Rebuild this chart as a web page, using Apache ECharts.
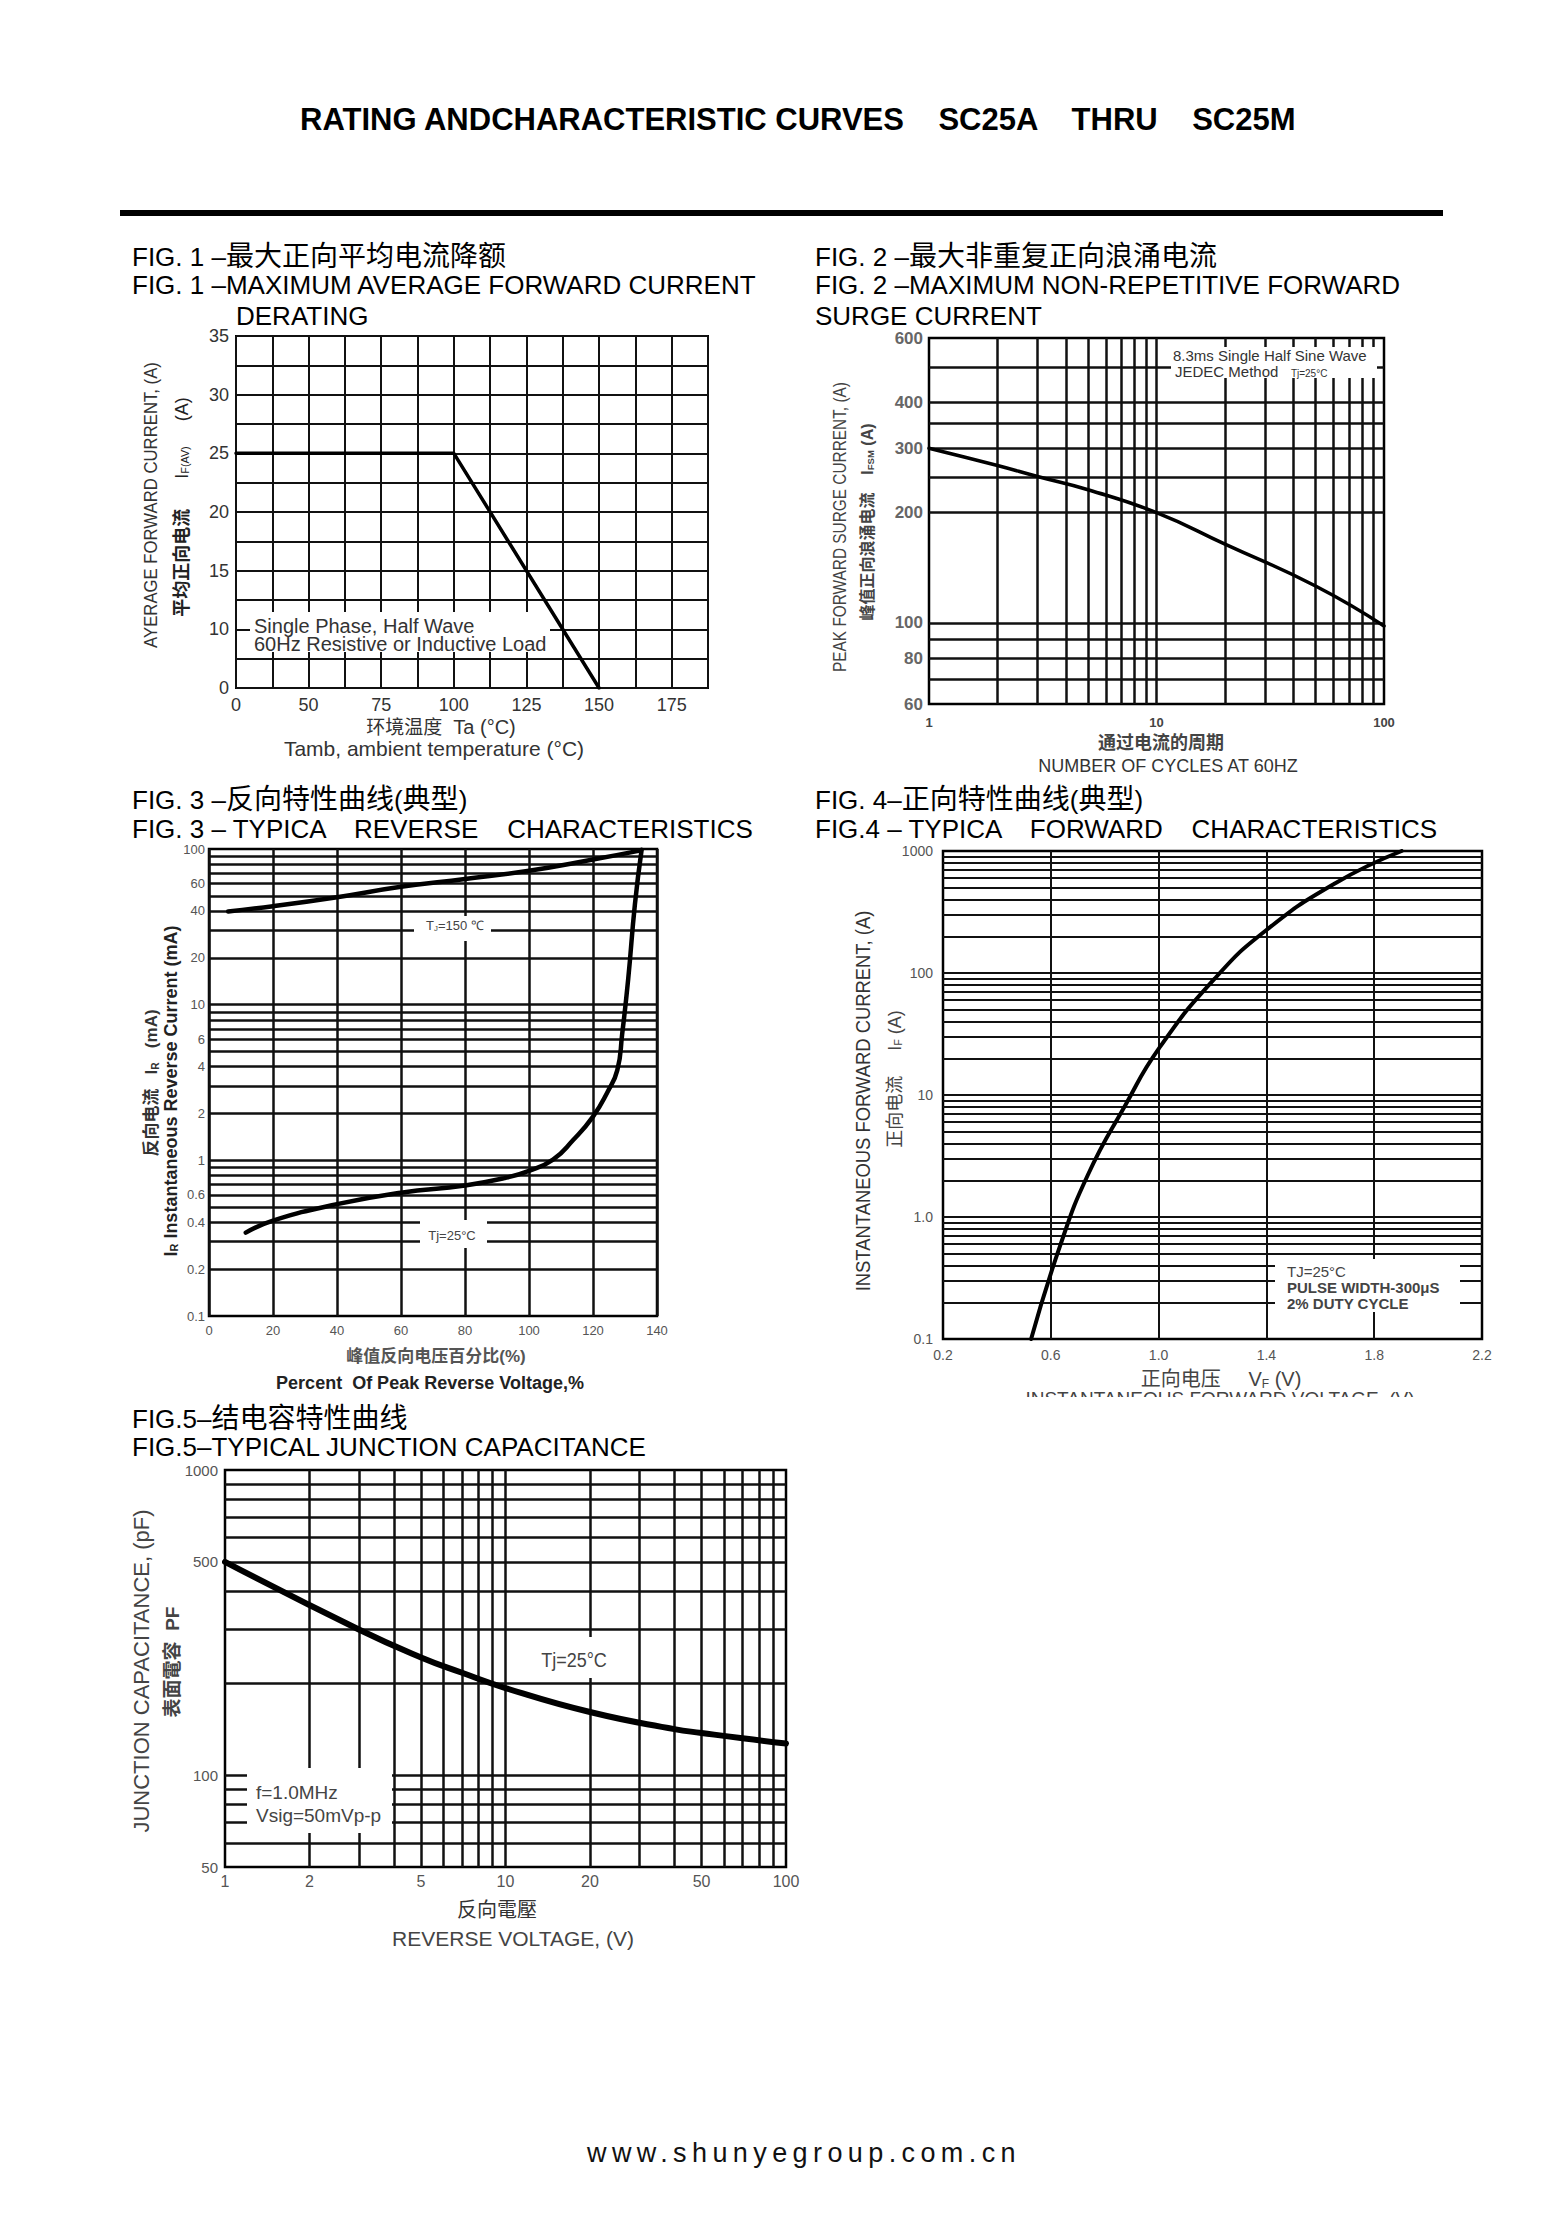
<!DOCTYPE html>
<html>
<head>
<meta charset="utf-8">
<title>SC25A thru SC25M curves</title>
<script src="https://cdn.jsdelivr.net/npm/echarts/dist/echarts.min.js"></script>
<style>
  body { margin: 0; background: #fff; }
  #page { position: relative; width: 1567px; height: 2217px; overflow: hidden; background: #fff;
          font-family: "Liberation Sans", Arial, Helvetica, sans-serif; color: #000; }
  #chart { position: absolute; left: 0; top: 0; width: 1567px; height: 2217px; }
  .t { position: absolute; white-space: pre; line-height: 1; transform: translateY(-50%); }
  .c { position: absolute; white-space: pre; line-height: 1; transform: translate(-50%, -50%); }
  .r { position: absolute; white-space: pre; line-height: 1; }
  .cn { font-family: "Noto Sans CJK SC", sans-serif; }
  .cap { font-size: 26px; }
  .cap .cn { font-size: 28px; }
  .sb { font-size: 0.6em; vertical-align: -0.15em; }
  .box { position: absolute; background: #fff; }
</style>
</head>
<body>
<div id="page">
  <div id="chart"></div>

  <!-- page heading -->
  <div class="t" style="left:300px;top:119px;font-size:31px;font-weight:bold">RATING ANDCHARACTERISTIC CURVES    SC25A    THRU    SC25M</div>
  <div class="box" style="left:120px;top:210px;width:1323px;height:6px;background:#000"></div>

  <!-- captions -->
  <div class="t cap" style="left:132px;top:255px">FIG. 1 –<span class="cn">最大正向平均电流降额</span></div>
  <div class="t cap" style="left:132px;top:285px">FIG. 1 –MAXIMUM AVERAGE FORWARD CURRENT</div>
  <div class="t cap" style="left:236px;top:316px">DERATING</div>

  <div class="t cap" style="left:815px;top:255px">FIG. 2 –<span class="cn">最大非重复正向浪涌电流</span></div>
  <div class="t cap" style="left:815px;top:285px">FIG. 2 –MAXIMUM NON-REPETITIVE FORWARD</div>
  <div class="t cap" style="left:815px;top:316px">SURGE CURRENT</div>

  <div class="t cap" style="left:132px;top:798px">FIG. 3 –<span class="cn">反向特性曲线</span>(<span class="cn">典型</span>)</div>
  <div class="t cap" style="left:132px;top:829px">FIG. 3 – TYPICA    REVERSE    CHARACTERISTICS</div>

  <div class="t cap" style="left:815px;top:798px">FIG. 4–<span class="cn">正向特性曲线</span>(<span class="cn">典型</span>)</div>
  <div class="t cap" style="left:815px;top:829px">FIG.4 – TYPICA    FORWARD    CHARACTERISTICS</div>

  <div class="t cap" style="left:132px;top:1417px">FIG.5–<span class="cn">结电容特性曲线</span></div>
  <div class="t cap" style="left:132px;top:1447px">FIG.5–TYPICAL JUNCTION CAPACITANCE</div>

  <!-- fig 1 axis names and note -->
  <div class="r" style="left:150px;top:505px;font-size:19px;color:#333;transform:translate(-50%,-50%) rotate(-90deg) scaleX(0.88)">AYERAGE FORWARD CURRENT, (A)</div>
  <div class="r" style="left:181px;top:507px;font-size:18px;color:#222;transform:translate(-50%,-50%) rotate(-90deg)"><span class="cn" style="font-weight:bold">平均正向电流</span>      I<span class="sb">F(AV)</span>     (A)</div>
  <div class="c" style="left:441px;top:726px;font-size:20px;color:#333"><span class="cn" style="font-size:19px">环境温度</span>  Ta (°C)</div>
  <div class="c" style="left:434px;top:748px;font-size:21px;color:#333">Tamb, ambient temperature (°C)</div>
  <div class="box" style="left:250px;top:612px;width:300px;height:40px"></div>
  <div class="t" style="left:254px;top:626px;font-size:20px;color:#333">Single Phase, Half Wave</div>
  <div class="t" style="left:254px;top:644px;font-size:20px;color:#333">60Hz Resistive or Inductive Load</div>

  <!-- fig 2 axis names and note -->
  <div class="r" style="left:839px;top:527px;font-size:19px;color:#444;transform:translate(-50%,-50%) rotate(-90deg) scaleX(0.81)">PEAK FORWARD SURGE CURRENT, (A)</div>
  <div class="r" style="left:867px;top:522px;font-size:16px;color:#444;font-weight:bold;transform:translate(-50%,-50%) rotate(-90deg)"><span class="cn">峰值正向浪涌电流</span>    I<span class="sb">FSM</span> (A)</div>
  <div class="c" style="left:1161px;top:742px;font-size:18px;color:#444;font-weight:bold"><span class="cn">通过电流的周期</span></div>
  <div class="c" style="left:1168px;top:766px;font-size:18px;color:#333">NUMBER OF CYCLES AT 60HZ</div>
  <div class="box" style="left:1171px;top:347px;width:206px;height:31px"></div>
  <div class="t" style="left:1173px;top:355px;font-size:15px;color:#333">8.3ms Single Half Sine Wave</div>
  <div class="t" style="left:1175px;top:371px;font-size:15px;color:#333">JEDEC Method   <span style="font-size:10px">Tj=25°C</span></div>

  <!-- fig 3 axis names and notes -->
  <div class="r" style="left:171px;top:1091px;font-size:18px;font-weight:bold;color:#222;transform:translate(-50%,-50%) rotate(-90deg)">I<span class="sb">R</span> Instantaneous Reverse Current (mA)</div>
  <div class="r" style="left:151px;top:1083px;font-size:17px;font-weight:bold;color:#333;transform:translate(-50%,-50%) rotate(-90deg)"><span class="cn">反向电流</span>   I<span class="sb">R</span>   (mA)</div>
  <div class="c" style="left:436px;top:1355px;font-size:17px;font-weight:bold;color:#555"><span class="cn">峰值反向电压百分比</span>(%)</div>
  <div class="c" style="left:430px;top:1383px;font-size:18px;font-weight:bold;color:#222">Percent  Of Peak Reverse Voltage,%</div>
  <div class="box" style="left:414px;top:916px;width:77px;height:25px"></div>
  <div class="c" style="left:455px;top:926px;font-size:13px;color:#444">T<span class="sb">J</span>=150 ℃</div>
  <div class="box" style="left:420px;top:1220px;width:67px;height:28px"></div>
  <div class="c" style="left:452px;top:1235px;font-size:13px;color:#444">Tj=25°C</div>

  <!-- fig 4 axis names and note -->
  <div class="r" style="left:863px;top:1101px;font-size:20px;color:#333;transform:translate(-50%,-50%) rotate(-90deg) scaleX(0.92)">INSTANTANEOUS FORWARD CURRENT, (A)</div>
  <div class="r" style="left:894px;top:1079px;font-size:18px;color:#444;transform:translate(-50%,-50%) rotate(-90deg)"><span class="cn">正向电流</span>     I<span class="sb">F</span> (A)</div>
  <div class="c" style="left:1221px;top:1379px;font-size:20px;color:#444"><span class="cn">正向电压</span>     V<span class="sb">F</span> (V)</div>
  <div class="c" style="left:1220px;top:1398px;font-size:19px;color:#444">INSTANTANEOUS FORWARD VOLTAGE, (V)</div>
  <div class="box" style="left:990px;top:1397px;width:460px;height:14px"></div>
  <div class="box" style="left:1275px;top:1259px;width:185px;height:53px"></div>
  <div class="t" style="left:1287px;top:1271px;font-size:15px;color:#444">TJ=25°C</div>
  <div class="t" style="left:1287px;top:1287px;font-size:15px;color:#444;font-weight:bold">PULSE WIDTH-300μS</div>
  <div class="t" style="left:1287px;top:1303px;font-size:15px;color:#444;font-weight:bold">2% DUTY CYCLE</div>

  <!-- fig 5 axis names and notes -->
  <div class="r" style="left:142px;top:1671px;font-size:22px;color:#444;transform:translate(-50%,-50%) rotate(-90deg)">JUNCTION CAPACITANCE, (pF)</div>
  <div class="r" style="left:171px;top:1662px;font-size:19px;color:#444;font-weight:bold;transform:translate(-50%,-50%) rotate(-90deg)"><span class="cn">表面電容</span>  PF</div>
  <div class="c" style="left:497px;top:1909px;font-size:20px;color:#333"><span class="cn">反向電壓</span></div>
  <div class="c" style="left:513px;top:1938px;font-size:21px;color:#444">REVERSE VOLTAGE, (V)</div>
  <div class="box" style="left:530px;top:1637px;width:85px;height:41px"></div>
  <div class="c" style="left:574px;top:1660px;font-size:20px;color:#444;transform:translate(-50%,-50%) scaleX(0.9)">Tj=25°C</div>
  <div class="box" style="left:247px;top:1768px;width:145px;height:65px"></div>
  <div class="t" style="left:256px;top:1792px;font-size:19px;color:#444">f=1.0MHz</div>
  <div class="t" style="left:256px;top:1815px;font-size:19px;color:#444">Vsig=50mVp-p</div>

  <!-- footer -->
  <div class="t" style="left:587px;top:2153px;font-size:27px;letter-spacing:5.4px;color:#111">www.shunyegroup.com.cn</div>
</div>

<script>
// ---- values ----

// Fig 1: derating (grid is 12.5 C by 2.5 A; the sheet prints "0" on the first x line and the bottom y line)
var fig1X = [25, 100, 150];
var fig1Y = [25, 25, 5];
var fig1XTicks = [25, 50, 75, 100, 125, 150, 175];
var fig1XLabels = ['0', '50', '75', '100', '125', '150', '175'];
var fig1YTicks = [5, 10, 15, 20, 25, 30, 35];
var fig1YLabels = ['0', '10', '15', '20', '25', '30', '35'];

// Fig 2: surge current vs cycles
var fig2X = [1, 2, 3, 5, 10, 20, 50, 100];
var fig2Y = [300, 269, 251, 231, 200, 164, 126, 98];
var fig2GridX = [2, 3, 4, 5, 6, 7, 8, 9, 10, 20, 30, 40, 50, 60, 70, 80, 90];
var fig2GridY = [70, 80, 90, 100, 200, 250, 300, 350, 400, 500];
var fig2XTicks = [1, 10, 100];
var fig2YTicks = [60, 80, 100, 200, 300, 400, 600];

// Fig 3: reverse characteristics
var fig3HotX = [6, 20, 40, 60, 80, 100, 120, 135];
var fig3HotY = [39.7, 42.9, 49, 57.2, 64.2, 72.5, 85.6, 98];
var fig3ColdX = [11.5, 20, 40, 60, 80, 92, 100, 107.5, 113.8, 120, 124.5, 127.6, 129.1, 131, 133.1, 135.2];
var fig3ColdY = [0.343, 0.41, 0.523, 0.62, 0.69, 0.766, 0.856, 1.01, 1.35, 1.91, 2.74, 3.8, 6.44, 14.6, 44.2, 99];
var fig3GridY = [0.2, 0.3, 0.4, 0.5, 0.6, 0.7, 0.8, 0.9, 1, 2, 3, 4, 5, 6, 7, 8, 9, 10, 20, 30, 40, 50, 60, 70, 80, 90];
var fig3YTicks = [0.1, 0.2, 0.4, 0.6, 1, 2, 4, 6, 10, 20, 40, 60, 100];
var fig3YLabels = ['0.1', '0.2', '0.4', '0.6', '1', '2', '4', '6', '10', '20', '40', '60', '100'];

// Fig 4: forward characteristics
var fig4X = [0.527, 0.635, 0.737, 0.877, 1.002, 1.208, 1.399, 1.654, 1.902];
var fig4Y = [0.1, 0.585, 2.2, 8.28, 24.2, 89.8, 224, 542, 1000];
var fig4GridX = [0.6, 1.0, 1.4, 1.8];
var fig4XTicks = [0.2, 0.6, 1.0, 1.4, 1.8, 2.2];
var fig4XLabels = ['0.2', '0.6', '1.0', '1.4', '1.8', '2.2'];
var fig4GridY = [0.2, 0.3, 0.4, 0.5, 0.6, 0.7, 0.8, 0.9, 1, 2, 3, 4, 5, 6, 7, 8, 9, 10,
                 20, 30, 40, 50, 60, 70, 80, 90, 100, 200, 300, 400, 500, 600, 700, 800, 900];
var fig4YTicks = [0.1, 1, 10, 100, 1000];
var fig4YLabels = ['0.1', '1.0', '10', '100', '1000'];

// Fig 5: junction capacitance
var fig5X = [1, 3, 5, 7, 10, 20, 40, 50, 70, 100];
var fig5Y = [500, 300, 243, 216.5, 193, 161, 141.5, 137.5, 132, 127];
var fig5GridX = [2, 3, 4, 5, 6, 7, 8, 9, 10, 20, 30, 40, 50, 60, 70, 80, 90];
var fig5GridY = [60, 70, 80, 90, 100, 200, 300, 400, 500, 600, 700, 800, 900];
var fig5XTicks = [1, 2, 5, 10, 20, 50, 100];
var fig5YTicks = [50, 100, 500, 1000];

var FONT = '"Liberation Sans", Arial, sans-serif';

function pairs(xs, ys) {
  return xs.map(function (x, i) { return [x, ys[i]]; });
}

// visible grid lines drawn as mark lines (used where the axis is logarithmic)
function gridItems(xs, ys, width) {
  var out = [];
  var ls = { type: 'solid', width: width, color: '#111' };
  xs.forEach(function (v) { out.push({ xAxis: v, lineStyle: ls }); });
  ys.forEach(function (v) { out.push({ yAxis: v, lineStyle: ls }); });
  return out;
}

// transparent mark lines that only carry a tick label at the axis side
function tickItems(dim, vals, labels, lab) {
  return vals.map(function (v, i) {
    var item = {
      lineStyle: { type: 'solid', color: 'rgba(0,0,0,0)', width: 1 },
      label: Object.assign({ show: true, position: 'start', formatter: String(labels[i]), fontFamily: FONT }, lab)
    };
    item[dim] = v;
    return item;
  });
}

function gridSeries(idx, data) {
  return {
    type: 'line', xAxisIndex: idx, yAxisIndex: idx, data: [], silent: true, z: 1,
    markLine: { silent: true, symbol: ['none', 'none'], z: 1, animation: false,
      lineStyle: { type: 'solid' }, label: { show: false }, data: data }
  };
}

function curve(idx, xs, ys, width, smooth) {
  return {
    type: 'line', xAxisIndex: idx, yAxisIndex: idx, data: pairs(xs, ys), z: 10,
    showSymbol: false, smooth: smooth, silent: true,
    lineStyle: { color: '#000', width: width, cap: 'round', join: 'round' }
  };
}

function box(left, top, width, height, bw) {
  return { left: left, top: top, width: width, height: height, show: true,
    borderColor: '#000', borderWidth: bw, backgroundColor: 'transparent' };
}

var hidden = { axisLine: { show: false }, axisTick: { show: false }, splitLine: { show: false }, axisLabel: { show: false } };

function logAxis(idx, min, max) {
  return Object.assign({ gridIndex: idx, type: 'log', logBase: 10, min: min, max: max }, hidden);
}

var chart = echarts.init(document.getElementById('chart'), null, { renderer: 'svg' });

var option = {
  animation: false,
  grid: [
    box(236, 336, 472, 352, 2),
    box(929, 338, 455, 366, 2.5),
    box(209, 849, 448, 467, 2.5),
    box(943, 851, 539, 488, 2.5),
    box(225, 1470, 561, 397, 2.5)
  ],
  xAxis: [
    {
      gridIndex: 0, type: 'value', min: 25, max: 187.5, interval: 12.5,
      axisLine: { show: false }, axisTick: { show: false },
      splitLine: { lineStyle: { color: '#111', width: 2 } },
      axisLabel: { margin: 8, fontSize: 18, color: '#333', fontFamily: FONT,
        formatter: function (v) { var i = fig1XTicks.indexOf(v); return i < 0 ? '' : fig1XLabels[i]; } }
    },
    logAxis(1, 1, 100),
    {
      gridIndex: 2, type: 'value', min: 0, max: 140, interval: 20,
      axisLine: { show: false }, axisTick: { show: false },
      splitLine: { lineStyle: { color: '#111', width: 2.5 } },
      axisLabel: { margin: 8, fontSize: 13, color: '#555', fontFamily: FONT }
    },
    Object.assign({ gridIndex: 3, type: 'value', min: 0.2, max: 2.2 }, hidden),
    logAxis(4, 1, 100)
  ],
  yAxis: [
    {
      gridIndex: 0, type: 'value', min: 5, max: 35, interval: 2.5,
      axisLine: { show: false }, axisTick: { show: false },
      splitLine: { lineStyle: { color: '#111', width: 2 } },
      axisLabel: { margin: 7, fontSize: 18, color: '#333', fontFamily: FONT,
        formatter: function (v) { var i = fig1YTicks.indexOf(v); return i < 0 ? '' : fig1YLabels[i]; } }
    },
    logAxis(1, 60, 600),
    logAxis(2, 0.1, 100),
    logAxis(3, 0.1, 1000),
    logAxis(4, 50, 1000)
  ],
  series: [
    curve(0, fig1X, fig1Y, 3.5, false),

    gridSeries(1, gridItems(fig2GridX, fig2GridY, 2.5)
      .concat(tickItems('xAxis', fig2XTicks, fig2XTicks, { fontSize: 13, color: '#444', fontWeight: 'bold', distance: 12 }))
      .concat(tickItems('yAxis', fig2YTicks, fig2YTicks, { fontSize: 17, color: '#666', fontWeight: 'bold', distance: 6 }))),
    curve(1, fig2X, fig2Y, 3.5, 0.5),

    gridSeries(2, gridItems([], fig3GridY, 2.5)
      .concat(tickItems('yAxis', fig3YTicks, fig3YLabels, { fontSize: 13, color: '#555', distance: 4 }))),
    curve(2, fig3HotX, fig3HotY, 4.5, 0.5),
    curve(2, fig3ColdX, fig3ColdY, 4.5, 0.5),

    gridSeries(3, gridItems(fig4GridX, fig4GridY, 2)
      .concat(tickItems('xAxis', fig4XTicks, fig4XLabels, { fontSize: 14, color: '#555', distance: 9 }))
      .concat(tickItems('yAxis', fig4YTicks, fig4YLabels, { fontSize: 14, color: '#555', distance: 10 }))),
    curve(3, fig4X, fig4Y, 4, 0.5),

    gridSeries(4, gridItems(fig5GridX, fig5GridY, 2.5)
      .concat(tickItems('xAxis', fig5XTicks, fig5XTicks, { fontSize: 16, color: '#555', distance: 6 }))
      .concat(tickItems('yAxis', fig5YTicks, fig5YTicks, { fontSize: 15, color: '#555', distance: 7 }))),
    curve(4, fig5X, fig5Y, 6, 0.5)
  ]
};

chart.setOption(option);
</script>
</body>
</html>
